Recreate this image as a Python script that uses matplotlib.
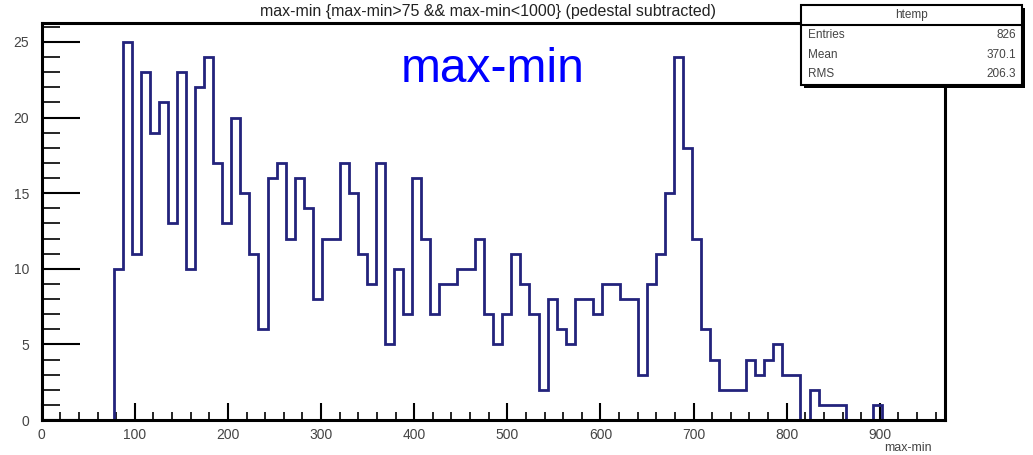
import numpy as np
import matplotlib
matplotlib.use("Agg")
import matplotlib.pyplot as plt
from matplotlib.patches import Rectangle
from matplotlib.ticker import MultipleLocator

# ---- data -------------------------------------------------------------
x_min, x_max, n_bins = 0.0, 970.0, 100
first_bin = 8
counts_nonzero = [10, 25, 11, 23, 19, 21, 13, 23, 10, 22,
                  24, 17, 13, 20, 15, 11, 6, 16, 17, 12,
                  16, 14, 8, 12, 12, 17, 15, 11, 9, 17,
                  5, 10, 7, 16, 12, 7, 9, 9, 10, 10,
                  12, 7, 5, 7, 11, 9, 7, 2, 8, 6,
                  5, 8, 8, 7, 9, 9, 8, 8, 3, 9,
                  11, 15, 24, 18, 12, 6, 4, 2, 2, 2,
                  4, 3, 4, 5, 3, 3, 0, 2, 1, 1, 1, 0, 0, 0, 1]
x_ticks = [0, 100, 200, 300, 400, 500, 600, 700, 800, 900]
y_ticks = [0, 5, 10, 15, 20, 25]
hist_name = "htemp"
stats_labels = ["Entries", "Mean", "RMS"]
stats_values = ["826", "370.1", "206.3"]
x_title = "max-min"
big_label = "max-min"
title = "max-min {max-min>75 && max-min<1000} (pedestal subtracted)"

counts = np.zeros(n_bins)
counts[first_bin:first_bin + len(counts_nonzero)] = counts_nonzero
edges = np.linspace(x_min, x_max, n_bins + 1)

# ---- figure -----------------------------------------------------------
W, H = 1033, 455
fig = plt.figure(figsize=(W / 100, H / 100), dpi=100)
fig.patch.set_facecolor("white")
plt.rcParams["font.family"] = ["Liberation Sans", "DejaVu Sans"]

ax_l, ax_r, ax_t, ax_b = 41.7, 945, 23, 420
ax = fig.add_axes([ax_l / W, 1 - ax_b / H, (ax_r - ax_l) / W, (ax_b - ax_t) / H])
ax.set_xlim(x_min, x_max)
ax.set_ylim(0, max(counts) * 1.05)

ax.stairs(counts, edges, color="#23237c", lw=2.0, zorder=2)

for s in ax.spines.values():
    s.set_linewidth(2.2)
    s.set_color("black")
    s.set_zorder(5)

ax.set_xticks(x_ticks)
ax.set_yticks(y_ticks)
ax.xaxis.set_minor_locator(MultipleLocator(20))
ax.yaxis.set_minor_locator(MultipleLocator(1))
ax.tick_params(axis="x", which="major", direction="in", length=12, width=1.5,
               labelsize=10, pad=6, labelcolor="#444444")
ax.tick_params(axis="x", which="minor", direction="in", length=6, width=1.2)
ax.tick_params(axis="y", which="major", direction="in", length=27, width=1.5,
               labelsize=10, pad=9, labelcolor="#444444")
ax.tick_params(axis="y", which="minor", direction="in", length=13, width=1.2)
ax.set_xticklabels([str(v) for v in x_ticks])
ax.set_yticklabels([str(v) for v in y_ticks])

# x axis title (right aligned, below tick labels)
fig.text(932 / W, 1 - 448 / H, x_title, ha="right", va="center",
         fontsize=9, color="#444444")

# big blue label
fig.text(401 / W, 1 - 82 / H, big_label, ha="left", va="baseline",
         fontsize=34.5, color="#0000ff")

# title, just above the frame
fig.text(488 / W, 1 - 16 / H, title, ha="center", va="baseline",
         fontsize=11.5, color="#222222")

# stats box
bx0, by0, bx1, by1 = 801, 5, 1022, 85
sh = 3
fig.patches.append(Rectangle(((bx0 + sh) / W, 1 - (by1 + sh) / H), (bx1 - bx0) / W,
                             (by1 - by0) / H, transform=fig.transFigure,
                             facecolor="black", edgecolor="none", zorder=10))
fig.patches.append(Rectangle((bx0 / W, 1 - by1 / H), (bx1 - bx0) / W,
                             (by1 - by0) / H, transform=fig.transFigure,
                             facecolor="white", edgecolor="black", lw=1.5, zorder=11))
fig.lines.append(plt.Line2D([bx0 / W, bx1 / W], [1 - 25 / H, 1 - 25 / H],
                            transform=fig.transFigure, color="black", lw=1.5, zorder=12))
fig.text((bx0 + bx1) / 2 / W, 1 - 15 / H, hist_name, ha="center", va="center",
         fontsize=8.5, color="#444444", zorder=13)
for i, (lab, val) in enumerate(zip(stats_labels, stats_values)):
    yy = 1 - (35 + 19.5 * i) / H
    fig.text(808 / W, yy, lab, ha="left", va="center", fontsize=8.5,
             color="#444444", zorder=13)
    fig.text(1016 / W, yy, val, ha="right", va="center", fontsize=8.5,
             color="#444444", zorder=13)

fig.savefig("out.png", dpi=100)
